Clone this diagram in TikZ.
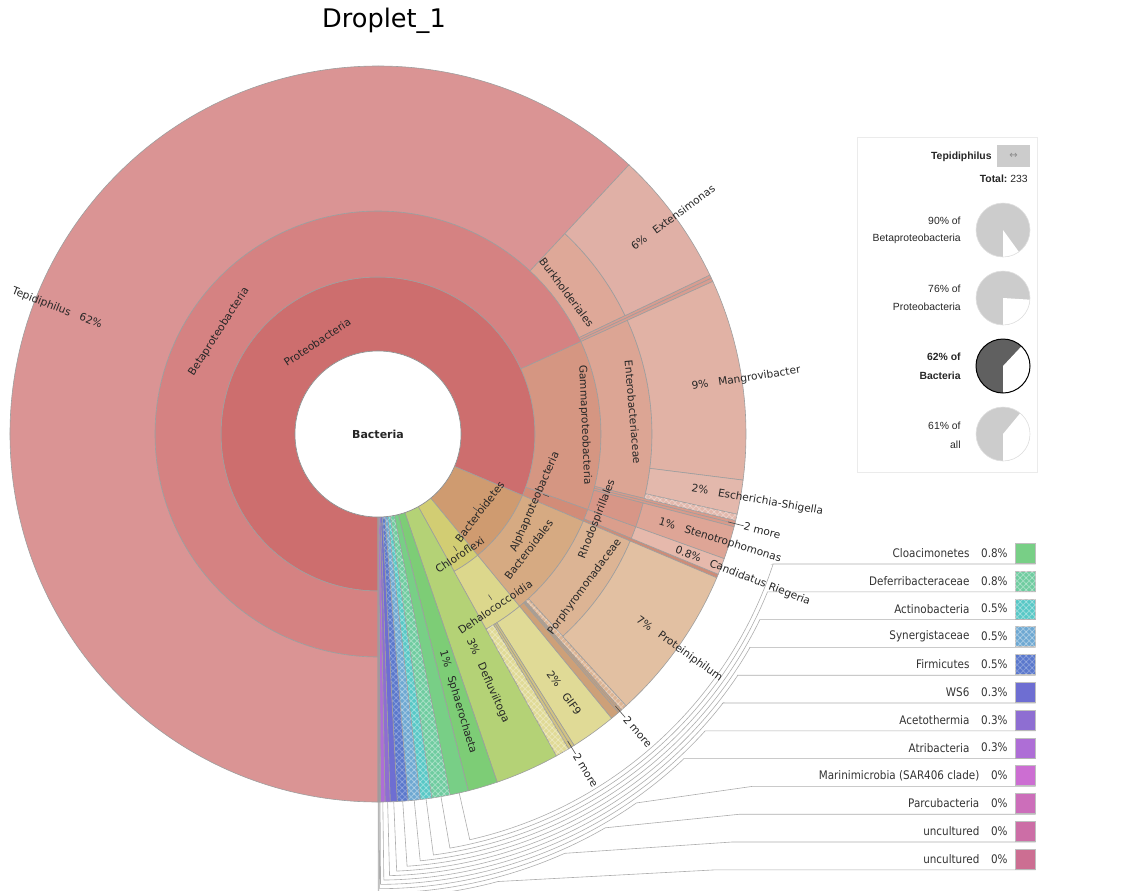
\documentclass[tikz,border=0pt]{standalone}
\usepackage{fontspec}
\setmainfont{DejaVu Sans}
\newfontfamily\sidefont{Liberation Sans}
\newfontfamily\keyfont[FakeStretch=0.88]{DejaVu Sans}
\usetikzlibrary{patterns}

\definecolor{proteo}{HTML}{CD6E6E}
\definecolor{betap}{HTML}{D58282}
\definecolor{tepid}{HTML}{DA9494}
\definecolor{burk}{HTML}{DEA898}
\definecolor{extens}{HTML}{E0B0A6}
\definecolor{betaoth}{HTML}{D99C90}
\definecolor{gammap}{HTML}{D59682}
\definecolor{entero}{HTML}{DCA594}
\definecolor{mangro}{HTML}{E1B2A5}
\definecolor{escher}{HTML}{E3B8AC}
\definecolor{gammoth}{HTML}{D99A8A}
\definecolor{xanth}{HTML}{D79687}
\definecolor{steno}{HTML}{DEA596}
\definecolor{alphap}{HTML}{D28C78}
\definecolor{rhodo}{HTML}{DA9E8C}
\definecolor{rieger}{HTML}{E6B9AC}
\definecolor{alphoth}{HTML}{CD8C78}
\definecolor{bacteroid}{HTML}{CF9B70}
\definecolor{bactales}{HTML}{D6AA82}
\definecolor{porph}{HTML}{DCB494}
\definecolor{protein}{HTML}{E2C0A2}
\definecolor{bactoth}{HTML}{CDA078}
\definecolor{chloro}{HTML}{D2CD73}
\definecolor{dehalo}{HTML}{DCD78C}
\definecolor{gifnine}{HTML}{E0DA96}
\definecolor{chloroth}{HTML}{D2C382}
\definecolor{defluv}{HTML}{B4D276}
\definecolor{sphaero}{HTML}{7DCD76}
\definecolor{cloac}{HTML}{78CF86}
\definecolor{deferr}{HTML}{6FCCA0}
\definecolor{actino}{HTML}{58C8C6}
\definecolor{synerg}{HTML}{6EA8D2}
\definecolor{firmic}{HTML}{5A78CC}
\definecolor{wssix}{HTML}{6E6ED2}
\definecolor{aceto}{HTML}{8E6ED2}
\definecolor{atrib}{HTML}{AE6ED6}
\definecolor{marini}{HTML}{CC6ED2}
\definecolor{parcu}{HTML}{CC6EBA}
\definecolor{uncA}{HTML}{CC6EA6}
\definecolor{uncB}{HTML}{CC6E92}
\definecolor{piegray}{HTML}{CCCCCC}
\definecolor{piedark}{HTML}{606060}

% wedge: from angle, to angle, inner radius, outer radius, style
\newcommand\kwedge[5]{\path[#5] (#1:#3) arc[start angle=#1,end angle=#2,radius=#3] -- (#2:#4) arc[start angle=#2,end angle=#1,radius=#4] -- cycle;}

\begin{document}
\begin{tikzpicture}[x=0.5pt,y=0.5pt,
	kw/.style={draw=black!38,line width=0.3pt},
	hatch/.style={pattern=crosshatch,pattern color=white,opacity=0.3},
	lbl/.style={font=\fontsize{5.3}{6}\selectfont,text=black!85,inner sep=0pt},
	keyf/.style={font=\keyfont\fontsize{5.9}{6.5}\selectfont,text=black!80,inner sep=0pt},
	side/.style={font=\sidefont\fontsize{5.2}{6}\selectfont,text=black!85,inner sep=0pt},
	leader/.style={draw=black!32,line width=0.3pt},
	tick/.style={draw=black!70,line width=0.3pt}]
	\useasboundingbox (-378,-456) rectangle (761,434);
	\clip (-378,-456) rectangle (761,434);

	\node[font=\fontsize{12.8}{14}\selectfont] (title) at (6,413) {Droplet\_1};

	% ring 1
	\kwedge{270}{-23}{83}{157}{kw,fill=proteo}
	\kwedge{-23}{-50.6}{83}{157}{kw,fill=bacteroid}
	\kwedge{-50.6}{-61}{83}{157}{kw,fill=chloro}
	\kwedge{-61}{-71.1}{83}{368}{kw,fill=defluv}
	\kwedge{-71.1}{-75.8}{83}{368}{kw,fill=sphaero}

	% ring 2
	\kwedge{270}{24.5}{157}{223}{kw,fill=betap}
	\kwedge{24.5}{-19.8}{157}{223}{kw,fill=gammap}
	\kwedge{-19.8}{-23}{157}{223}{kw,fill=alphap}
	\kwedge{-23}{-50.6}{157}{223}{kw,fill=bactales}
	\kwedge{-50.6}{-61}{157}{223}{kw,fill=dehalo}

	% ring 3
	\kwedge{270}{47}{223}{368}{kw,fill=tepid}
	\kwedge{47}{25.6}{223}{274}{kw,fill=burk}
	\kwedge{25.6}{25.05}{223}{368}{kw,fill=betaoth}
	\kwedge{25.05}{24.5}{223}{368}{kw,fill=betaoth}
	\kwedge{24.5}{-13.6}{223}{274}{kw,fill=entero}
	\kwedge{-13.6}{-14.1}{223}{368}{kw,fill=gammoth}
	\kwedge{-14.1}{-14.6}{223}{368}{kw,fill=gammoth}
	\kwedge{-14.6}{-19.8}{223}{274}{kw,fill=xanth}
	\kwedge{-19.8}{-22.4}{223}{274}{kw,fill=rhodo}
	\kwedge{-22.4}{-23}{223}{368}{kw,fill=alphoth}
	\kwedge{-23}{-47.6}{223}{274}{kw,fill=porph}
	\kwedge{-47.6}{-48.6}{223}{368}{kw,fill=porph}
	\kwedge{-47.6}{-48.6}{223}{368}{hatch}
	\kwedge{-48.6}{-48.9}{223}{368}{kw,fill=bactoth}
	\kwedge{-48.9}{-49.2}{223}{368}{kw,fill=bactoth}
	\kwedge{-49.2}{-50.6}{223}{368}{kw,fill=bactoth}
	\kwedge{-50.6}{-57.8}{223}{368}{kw,fill=gifnine}
	\kwedge{-57.8}{-58.3}{223}{368}{kw,fill=chloroth}
	\kwedge{-58.3}{-58.8}{223}{368}{kw,fill=chloroth}
	\kwedge{-58.8}{-61}{223}{368}{kw,fill=gifnine}
	\kwedge{-58.8}{-61}{223}{368}{hatch}

	% ring 4
	\kwedge{47}{25.6}{274}{368}{kw,fill=extens}
	\kwedge{24.5}{-7.2}{274}{368}{kw,fill=mangro}
	\kwedge{-7.2}{-12.6}{274}{368}{kw,fill=escher}
	\kwedge{-12.6}{-13.6}{274}{368}{kw,fill=escher}
	\kwedge{-12.6}{-13.6}{274}{368}{hatch}
	\kwedge{-14.6}{-19.8}{274}{368}{kw,fill=steno}
	\kwedge{-19.8}{-22.4}{274}{368}{kw,fill=rieger}
	\kwedge{-23}{-47.6}{274}{368}{kw,fill=protein}

	% small phyla with the key on the right
	\foreach \nm/\pc/\col/\aa/\ab/\ps/\xe/\hop [count=\i from 0] in {
		Cloacimonetes/0.8\%/cloac/-75.8/-78.7/-18.21/395.1/0,
		Deferribacteraceae/0.8\%/deferr/-78.7/-81.6/-22.08/389.4/0.35,
		Actinobacteria/0.5\%/actino/-81.6/-83.4/-25.98/381.7/0.35,
		Synergistaceae/0.5\%/synerg/-83.4/-85.3/-29.93/371.7/0.35,
		Firmicutes/0.5\%/firmic/-85.3/-87.0/-33.96/359.3/0.25,
		WS6/0.3\%/wssix/-87.0/-88.1/-37.94/345.0/0,
		Acetothermia/0.3\%/aceto/-88.1/-88.9/-42.24/327.1/0,
		Atribacteria/0.3\%/atrib/-88.9/-89.6/-46.76/305.6/0,
		Marinimicrobia (SAR406 clade)/0\%/marini/-89.6/-89.75/-55/374/0,
		Parcubacteria/0\%/parcu/-89.75/-89.85/-60/362/0,
		uncultured/0\%/uncA/-89.85/-89.93/-66/354/0,
		uncultured/0\%/uncB/-89.93/-90/-75/338/0}{
		\pgfmathsetmacro\ph{(\aa+\ab)/2}
		\pgfmathsetmacro\rr{416+4.3*\i}
		\pgfmathsetmacro\yy{-130-27.8*\i}
		\kwedge{\aa}{\ab}{83}{368}{kw,fill=\col}
		\kwedge{\aa}{\ab}{83}{368}{pattern=crosshatch,pattern color=white,opacity=\hop}
		\coordinate (rim\i) at (\ph:368);
		\coordinate (k\i) at (\xe,\yy);
		\node[keyf,anchor=east] (pc\i) at (630,{\yy+11}) {\pc};
		\node[keyf,anchor=east] (nm\i) at ([xshift=-5.5pt]pc\i.west) {\nm};
		\node[draw=black!25,line width=0.3pt,fill=\col,minimum width=10pt,minimum height=10pt,inner sep=0pt,anchor=south west] (sw\i) at (637,{\yy+0.5}) {};
		\fill[pattern=crosshatch,pattern color=white,opacity=\hop] (sw\i.south west) rectangle (sw\i.north east);
		\draw[leader] (rim\i) -- (\ph:\rr) arc[start angle=\ph,end angle=\ps,radius=\rr] -- (k\i) -- (sw\i.south east |- k\i);
	}

	% centre
	\draw[black!45,line width=0.3pt,fill=white] (0,0) circle[radius=83];
	\node[lbl,font=\bfseries\fontsize{5.5}{6}\selectfont] (root) at (0,0) {Bacteria};

	% labels along the rings
	\node[lbl,rotate=33.5] (proteo) at (123.5:110) {Proteobacteria};
	\node[lbl,rotate=57.3] (betap) at (147.3:189) {Betaproteobacteria};
	\node[lbl,rotate=-53.1] (burk) at (36.9:236) {Burkholderiales};
	\node[lbl,rotate=-87.5] (gammap) at (2.5:207) {Gammaproteobacteria};
	\node[lbl,rotate=-85.1] (entero) at (4.9:256) {Enterobacteriaceae};
	\node[lbl,rotate=66.6] (alphap) at (-23.4:171) {Alphaproteobacteria};
	\node[lbl,rotate=52.6] (bacteroid) at (-37.4:128) {Bacteroidetes};
	\node[lbl,rotate=34.1] (chloro) at (-55.9:146) {Chloroflexi};
	\node[lbl,rotate=52.5] (bactales) at (-37.5:190) {Bacteroidales};
	\node[lbl,rotate=68.8] (rhodo) at (-21.2:235) {Rhodospirillales};
	\node[lbl,rotate=53.5] (porph) at (-36.5:257) {Porphyromonadaceae};
	\node[lbl,rotate=34.1] (dehalo) at (-55.9:209) {Dehalococcoidia};
	\draw[tick] (-37.6:120) -- (-37.6:126);
	\draw[tick] (-56:135) -- (-56:141);
	\draw[tick] (-20.1:176) -- (-20.1:182);
	\draw[tick] (-55.5:195) -- (-55.5:201);

	% labels of the outer wedges
	\node[lbl,anchor=west,rotate=-21.4] (tepid) at (158.6:393) {Tepidiphilus\hspace{5pt}62\%};
	\node[lbl,anchor=west,rotate=36.3] (extens) at (36.3:315) {6\%\hspace{5pt}Extensimonas};
	\node[lbl,anchor=west,rotate=8.6] (mangro) at (8.6:317) {9\%\hspace{5pt}Mangrovibacter};
	\node[lbl,anchor=west,rotate=-9.9] (escher) at (-9.9:318) {2\%\hspace{5pt}Escherichia-Shigella};
	\node[lbl,anchor=west,rotate=-17.3] (steno) at (-17.3:294) {1\%\hspace{5pt}Stenotrophomonas};
	\node[lbl,anchor=west,rotate=-21.3] (rieger) at (-21.3:319) {0.8\%\hspace{5pt}Candidatus Riegeria};
	\node[lbl,anchor=west,rotate=-35.5] (protein) at (-35.5:318) {7\%\hspace{5pt}Proteiniphilum};
	\node[lbl,anchor=west,rotate=-54.3] (gifnine) at (-54.3:293) {2\%\hspace{5pt}GIF9};
	\node[lbl,anchor=west,rotate=-66] (defluv) at (-66:224) {3\%\hspace{5pt}Defluviitoga};
	\node[lbl,anchor=west,rotate=-73.4] (sphaero) at (-73.4:226) {1\%\hspace{5pt}Sphaerochaeta};

	% collapsed slivers
	\coordinate (mo1) at (-14.1:361);
	\node[lbl,anchor=west,rotate=-14.1] (more1) at (-14.1:377) {2 more};
	\draw[tick] (mo1) -- (more1.west);
	\coordinate (mo2) at (-48.9:361);
	\node[lbl,anchor=west,rotate=-48.9] (more2) at (-48.9:376) {2 more};
	\draw[tick] (mo2) -- (more2.west);
	\coordinate (mo3) at (-58.3:361);
	\node[lbl,anchor=west,rotate=-58.3] (more3) at (-58.3:376) {2 more};
	\draw[tick] (mo3) -- (more3.west);

	% details panel
	\draw[black!8,line width=0.4pt] (479,297) rectangle (659,-38);
	\node[side,font=\sidefont\bfseries\fontsize{5.2}{6}\selectfont,anchor=east] (focus) at (614,277) {Tepidiphilus};
	\node[fill=black!20,minimum width=16.5pt,minimum height=11pt,inner sep=0pt,text=black!45,font=\fontsize{5}{6}\selectfont] (swap) at (635.5,278) {↔};
	\node[side,anchor=east] (total) at (650,255) {\bfseries Total:\mdseries\ 233};

	\fill[piegray] (625,204) circle[radius=27];
	\fill[white] (625,204) -- ++(-90:27) arc[start angle=-90,end angle=-54,radius=27] -- cycle;
	\draw[black!12,line width=0.3pt] (625,204) circle[radius=27];
	\node[side,anchor=east] (ofbeta) at (583,213) {90\% of};
	\node[side,anchor=east] (betan) at (583,195) {Betaproteobacteria};

	\fill[piegray] (625,136) circle[radius=27];
	\fill[white] (625,136) -- ++(-90:27) arc[start angle=-90,end angle=-3.6,radius=27] -- cycle;
	\draw[black!12,line width=0.3pt] (625,136) circle[radius=27];
	\node[side,anchor=east] (ofprot) at (583,145) {76\% of};
	\node[side,anchor=east] (protn) at (583,127) {Proteobacteria};

	\fill[piedark] (625,68) circle[radius=27];
	\fill[white] (625,68) -- ++(-90:27) arc[start angle=-90,end angle=46.8,radius=27] -- cycle;
	\draw[black,line width=0.5pt] (625,68) circle[radius=27];
	\node[side,font=\sidefont\bfseries\fontsize{5.2}{6}\selectfont,anchor=east] (ofbact) at (583,77) {62\% of};
	\node[side,font=\sidefont\bfseries\fontsize{5.2}{6}\selectfont,anchor=east] (bactn) at (583,58) {Bacteria};

	\fill[piegray] (625,0) circle[radius=27];
	\fill[white] (625,0) -- ++(-90:27) arc[start angle=-90,end angle=50.4,radius=27] -- cycle;
	\draw[black!12,line width=0.3pt] (625,0) circle[radius=27];
	\node[side,anchor=east] (ofall) at (583,8) {61\% of};
	\node[side,anchor=east] (alln) at (583,-11) {all};
\end{tikzpicture}
\end{document}
